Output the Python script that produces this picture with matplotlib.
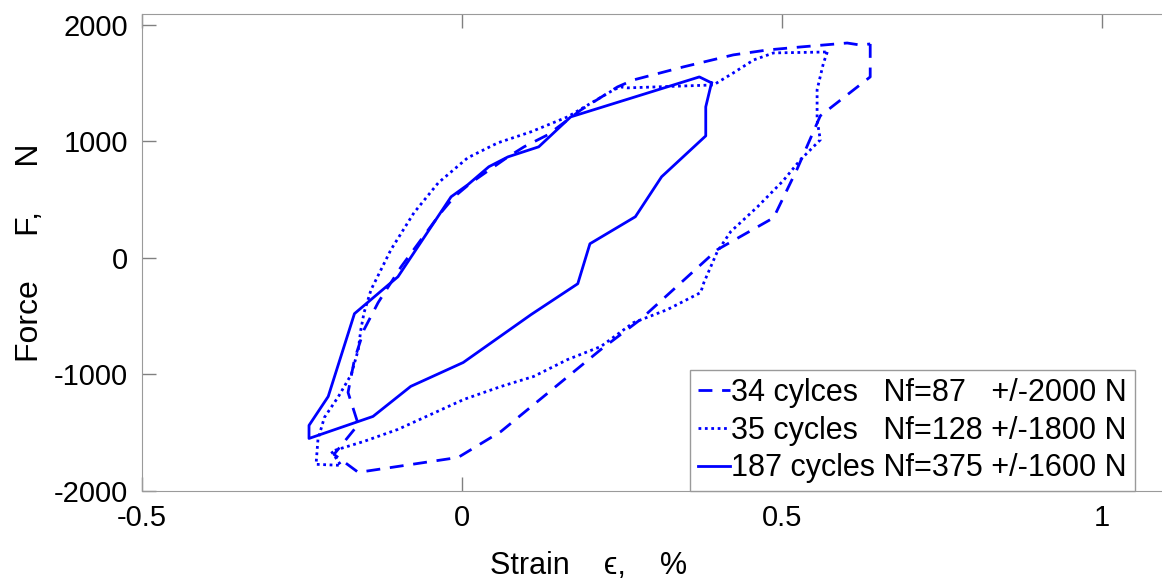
import matplotlib
matplotlib.use("Agg")
import numpy as np
from matplotlib import pyplot as plt

plt.rcParams['font.family'] = ['Liberation Sans', 'DejaVu Sans']
plt.rcParams['axes.unicode_minus'] = False

# 34 cycles, +/-2000 N (dashed)
strain_34 = [0.638, 0.638, 0.560, 0.524, 0.487, 0.399, 0.279, 0.217, 0.061, -0.006,
             -0.162, -0.200, -0.162, -0.178, -0.168, -0.153, -0.131, -0.095, -0.033,
             -0.012, 0.014, 0.072, 0.097, 0.134, 0.186, 0.243, 0.268, 0.346, 0.424,
             0.477, 0.529, 0.602, 0.622, 0.638]
force_34 = [1837, 1554, 1220, 766, 345, 71, -528, -786, -1489, -1712,
            -1840, -1686, -1429, -1154, -872, -615, -383, -75, 388,
            525, 645, 868, 954, 1057, 1271, 1468, 1528, 1640, 1743,
            1785, 1811, 1845, 1828, 1837]

# 35 cycles, +/-1800 N (dotted)
strain_35 = [0.571, 0.565, 0.555, 0.555, 0.560, 0.529, 0.502, 0.462, 0.420, 0.399,
             0.378, 0.373, 0.321, 0.268, 0.217, 0.165, 0.112, 0.061, 0.003, -0.100,
             -0.153, -0.204, -0.189, -0.228, -0.225, -0.215, -0.193, -0.173, -0.162,
             -0.158, -0.153, -0.142, -0.111, -0.075, -0.037, 0.009, 0.056, 0.108,
             0.165, 0.237, 0.248, 0.259, 0.393, 0.424, 0.456, 0.487, 0.571]
force_35 = [1768, 1674, 1443, 1186, 1014, 843, 663, 440, 226, 54,
            -212, -297, -443, -555, -760, -872, -1017, -1103, -1214, -1471,
            -1574, -1660, -1780, -1771, -1557, -1369, -1189, -1000, -786,
            -615, -469, -272, 71, 388, 645, 860, 988, 1083,
            1211, 1443, 1468, 1460, 1485, 1588, 1700, 1760, 1768]

# 187 cycles, +/-1600 N (solid)
strain_187 = [0.390, 0.381, 0.381, 0.312, 0.271, 0.200, 0.181, 0.108, 0.002, -0.080,
              -0.139, -0.239, -0.239, -0.209, -0.168, -0.100, -0.017, 0.009, 0.042,
              0.072, 0.120, 0.170, 0.371, 0.390]
force_187 = [1503, 1297, 1048, 697, 354, 122, -221, -486, -897, -1102,
             -1360, -1549, -1437, -1189, -478, -161, 525, 628, 783,
             868, 954, 1211, 1554, 1503]

labels = ["34 cylces   Nf=87   +/-2000 N",
          "35 cycles   Nf=128 +/-1800 N",
          "187 cycles Nf=375 +/-1600 N"]

fig = plt.figure(figsize=(11.62, 5.80), dpi=100)
ax = fig.add_axes([142 / 1162, 1 - 491 / 580, 1 - 142 / 1162, (491 - 14) / 580])

ax.plot(strain_34, force_34, color='#0000ff', lw=2, linestyle=(0, (5, 3.5)), label=labels[0])
ax.plot(strain_35, force_35, color='#0000ff', lw=2, linestyle=(0, (1, 1.3)), label=labels[1])
ax.plot(strain_187, force_187, color='#0000ff', lw=2, linestyle='-', label=labels[2])

ax.set_xlim(-0.5, 1.094)
ax.set_ylim(-2000, 2094)
ax.set_xticks([-0.5, 0, 0.5, 1])
ax.set_xticklabels(['-0.5', '0', '0.5', '1'])
ax.set_yticks([-2000, -1000, 0, 1000, 2000])
ax.tick_params(direction='in', length=10, width=1, color='#808080', labelsize=21,
               top=True, right=False)
ax.tick_params(axis='x', pad=9)
ax.tick_params(axis='y', pad=10)
for side in ['left', 'bottom', 'top']:
    ax.spines[side].set_color('#9a9a9a')
ax.spines['right'].set_visible(False)

ax.set_ylabel("Force     F,     N", fontsize=23)
ax.yaxis.set_label_coords(-0.095, 0.5)
ax.set_xlabel("Strain    \u03f5,    %", fontsize=22)
ax.xaxis.set_label_coords((589 - 142) / 1020, -0.125)

leg = ax.legend(loc='lower left', bbox_to_anchor=((690 - 142) / 1020, 0.0), fontsize=22,
                frameon=True, fancybox=False, edgecolor='#9a9a9a', framealpha=1,
                handlelength=1.05, handletextpad=0.05, borderpad=0.25, labelspacing=0.25,
                borderaxespad=0)
leg.get_frame().set_linewidth(1)

fig.savefig("out.png", dpi=100)
